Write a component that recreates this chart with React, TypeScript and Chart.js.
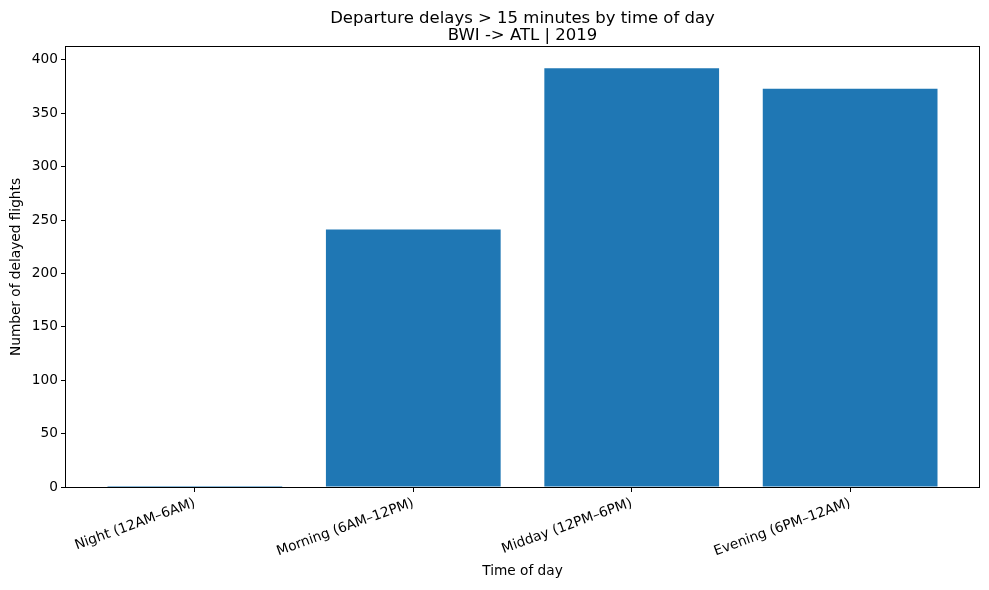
import React, { useEffect, useRef } from "react";
import { Chart, registerables } from "chart.js";

Chart.register(...registerables);

const categories = [
  "Night (12AM\u20136AM)",
  "Morning (6AM\u201312PM)",
  "Midday (12PM\u20136PM)",
  "Evening (6PM\u201312AM)",
];
const delayedFlights = [1, 241, 392, 373];
const yTicks = [0, 50, 100, 150, 200, 250, 300, 350, 400];
const titleLines = ["Departure delays > 15 minutes by time of day", "BWI -> ATL | 2019"];
const xTitle = "Time of day";
const yTitle = "Number of delayed flights";

const FONT = '"DejaVu Sans", sans-serif';

export default function App() {
  const ref = useRef<HTMLCanvasElement | null>(null);

  useEffect(() => {
    document.body.style.margin = "0";
    const canvas = ref.current;
    if (!canvas) return;

    const framePlugin = {
      id: "frame",
      afterDatasetsDraw(chart: any) {
        const { ctx, chartArea } = chart;
        ctx.save();
        ctx.strokeStyle = "#000";
        ctx.lineWidth = 1;
        ctx.strokeRect(
          Math.round(chartArea.left) - 0.5,
          Math.round(chartArea.top) - 0.5,
          Math.round(chartArea.right - chartArea.left) + 1,
          Math.round(chartArea.bottom - chartArea.top) + 1
        );
        ctx.restore();
      },
    };

    const titlePlugin = {
      id: "mplTitle",
      afterDraw(chart: any) {
        const { ctx, chartArea } = chart;
        const cx = (chartArea.left + chartArea.right) / 2;
        ctx.save();
        ctx.fillStyle = "#000";
        ctx.font = `16.5px ${FONT}`;
        ctx.textAlign = "center";
        ctx.textBaseline = "alphabetic";
        ctx.fillText(titleLines[0], cx, 23);
        ctx.fillText(titleLines[1], cx, 40);
        ctx.restore();
      },
    };

    const chart = new Chart(canvas, {
      type: "bar",
      data: {
        datasets: [
          {
            data: categories.map((_, i) => ({ x: i, y: delayedFlights[i] })),
            backgroundColor: "#1f77b4",
            borderWidth: 0,
            inflateAmount: 0,
            categoryPercentage: 1,
            barPercentage: 0.8,
          },
        ],
      },
      options: {
        responsive: false,
        animation: false,
        layout: { padding: { left: 0, right: 10, top: 47, bottom: 0 } },
        plugins: {
          legend: { display: false },
          title: { display: false },
          tooltip: { enabled: false },
        },
        scales: {
          x: {
            type: "linear",
            offset: false,
            min: -0.59,
            max: 3.59,
            afterBuildTicks: (scale: any) => {
              scale.ticks = categories.map((_, i) => ({ value: i }));
            },
            afterFit: (scale: any) => {
              scale.height = 103;
            },
            grid: {
              offset: false,
              drawOnChartArea: false,
              drawTicks: true,
              tickLength: 5,
              color: "#000",
              lineWidth: 1,
            },
            border: { display: false },
            ticks: {
              autoSkip: false,
              minRotation: 20,
              maxRotation: 20,
              padding: 3,
              color: "#000",
              font: { family: FONT, size: 13.7 },
              callback: (v: any) => categories[Number(v)] ?? "",
            },
            title: {
              display: true,
              text: xTitle,
              color: "#000",
              font: { family: FONT, size: 13.7 },
              padding: { top: 4, bottom: 10 },
            },
          },
          y: {
            type: "linear",
            min: 0,
            max: 412,
            afterBuildTicks: (scale: any) => {
              scale.ticks = yTicks.map((v) => ({ value: v }));
            },
            afterFit: (scale: any) => {
              scale.width = 66;
            },
            grid: {
              drawOnChartArea: false,
              drawTicks: true,
              tickLength: 5,
              color: "#000",
              lineWidth: 1,
            },
            border: { display: false },
            ticks: {
              padding: 3,
              color: "#000",
              font: { family: FONT, size: 13.7 },
            },
            title: {
              display: true,
              text: yTitle,
              color: "#000",
              font: { family: FONT, size: 13.7 },
              padding: { top: 8, bottom: 4 },
            },
          },
        },
      },
      plugins: [framePlugin, titlePlugin],
    } as any);

    return () => chart.destroy();
  }, []);

  return (
    <div style={{ width: 989, height: 590, background: "#fff" }}>
      <canvas ref={ref} width={989} height={590} style={{ display: "block" }} />
    </div>
  );
}
